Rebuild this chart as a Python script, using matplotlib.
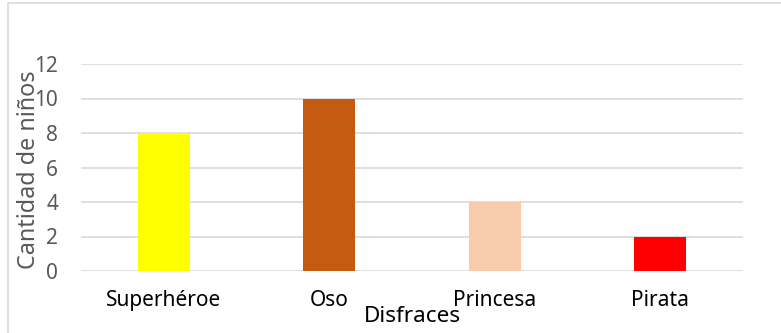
import matplotlib
matplotlib.use("Agg")
import matplotlib.pyplot as plt
from matplotlib.patches import Rectangle

categories = ["Superhéroe", "Oso", "Princesa", "Pirata"]
values = [8, 10, 4, 2]
colors = ["#FFFF00", "#C55A11", "#F8CBAD", "#FF0000"]
yticks = [0, 2, 4, 6, 8, 10, 12]

plt.rcParams['font.family'] = ['Noto Sans', 'DejaVu Sans']

W, H = 781, 333
fig = plt.figure(figsize=(W/100, H/100), dpi=100)
ax = fig.add_axes([81/W, 62/H, 662/W, 207/H])

x = list(range(len(categories)))
ax.bar(x, values, width=0.314, color=colors, zorder=3)
ax.set_xlim(-0.5, len(categories) - 0.5)
ax.set_ylim(0, 12)
ax.set_yticks(yticks)
ax.set_yticklabels([str(t) for t in yticks])
ax.set_xticks(x)
ax.set_xticklabels(categories)
ax.grid(axis='y', color='#D9D9D9', linewidth=1.2, zorder=0)
for s in ax.spines.values():
    s.set_visible(False)
ax.tick_params(axis='y', length=0, pad=16.5, labelsize=15, labelcolor='#595959')
ax.tick_params(axis='x', length=0, pad=14, labelsize=15, labelcolor='#000000')

fig.text(29/W, 1 - 170/H, "Cantidad de niños", rotation=90, ha='center', va='center',
         fontsize=16.8, color='#595959')
fig.text(412/W, 1 - 317/H, "Disfraces", ha='center', va='center', fontsize=16.2, color='#000000')

fig.patches.append(Rectangle((8/W, -0.05), 1.2, 1 - 3/H + 0.05, transform=fig.transFigure,
                             fill=False, edgecolor='#D9D9D9', linewidth=1.2))

fig.savefig("out.png", dpi=100)
